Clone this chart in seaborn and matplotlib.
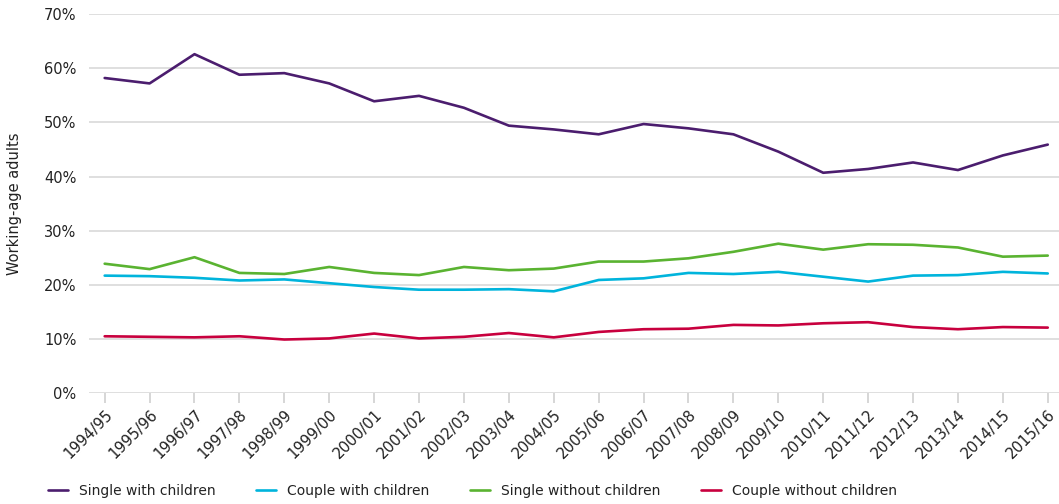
import numpy as np
import pandas as pd
import matplotlib
matplotlib.use("Agg")
import matplotlib.pyplot as plt
import seaborn as sns
from matplotlib.ticker import PercentFormatter

years = ["1994/95", "1995/96", "1996/97", "1997/98", "1998/99", "1999/00", "2000/01",
         "2001/02", "2002/03", "2003/04", "2004/05", "2005/06", "2006/07", "2007/08",
         "2008/09", "2009/10", "2010/11", "2011/12", "2012/13", "2013/14", "2014/15", "2015/16"]

single_with_children = [58.2, 57.2, 62.6, 58.8, 59.1, 57.2, 53.9, 54.9, 52.7, 49.4, 48.7,
                        47.8, 49.7, 48.9, 47.8, 44.6, 40.7, 41.4, 42.6, 41.2, 43.9, 45.9]
couple_with_children = [21.7, 21.6, 21.3, 20.8, 21.0, 20.3, 19.6, 19.1, 19.1, 19.2, 18.8,
                        20.9, 21.2, 22.2, 22.0, 22.4, 21.5, 20.6, 21.7, 21.8, 22.4, 22.1]
single_without_children = [23.9, 22.9, 25.1, 22.2, 22.0, 23.3, 22.2, 21.8, 23.3, 22.7, 23.0,
                           24.3, 24.3, 24.9, 26.1, 27.6, 26.5, 27.5, 27.4, 26.9, 25.2, 25.4]
couple_without_children = [10.5, 10.4, 10.3, 10.5, 9.9, 10.1, 11.0, 10.1, 10.4, 11.1, 10.3,
                           11.3, 11.8, 11.9, 12.6, 12.5, 12.9, 13.1, 12.2, 11.8, 12.2, 12.1]

series_names = ["Single with children", "Couple with children",
                "Single without children", "Couple without children"]
colors = ["#4B1D6E", "#00B4DC", "#5AB331", "#C8003E"]

rows = []
for name, vals in zip(series_names, [single_with_children, couple_with_children,
                                     single_without_children, couple_without_children]):
    for i, (y, v) in enumerate(zip(years, vals)):
        rows.append({"idx": i, "year": y, "value": v, "series": name})
df = pd.DataFrame(rows)

sns.set_theme(style="white")
plt.rcParams['font.family'] = ['DejaVu Sans']

fig = plt.figure(figsize=(10.59, 5.04), dpi=100)
ax = fig.add_axes([0.084, 0.220, 0.916, 0.752])

sns.lineplot(data=df, x="idx", y="value", hue="series", palette=colors,
             hue_order=series_names, linewidth=1.9, ax=ax, legend=True)

ax.set_ylim(0, 70)
ax.set_xlim(-0.35, 21.25)
ax.set_yticks(range(0, 71, 10))
ax.yaxis.set_major_formatter(PercentFormatter(decimals=0))
ax.grid(axis="y", color="#d9d9d9", linewidth=1.2)
ax.set_axisbelow(True)
for s in ax.spines.values():
    s.set_visible(False)

ax.set_xticks(range(len(years)))
ax.set_xticklabels(years, rotation=45, ha="right", rotation_mode="anchor",
                   fontsize=10.8, color="#222222")
ax.tick_params(axis="x", bottom=True, length=7, color="#d0d0d0", width=1.2, pad=3)
ax.tick_params(axis="y", left=False, length=0, labelsize=10.5, labelcolor="#222222", pad=9)
ax.set_xlabel("")
ax.set_ylabel("Working-age adults", fontsize=10.5, color="#222222")
ax.yaxis.set_label_coords(-0.069, 0.5)

handles, labels = ax.get_legend_handles_labels()
leg = ax.legend(handles, labels, loc="lower left", ncol=4, frameon=False, fontsize=10,
                handlelength=1.45, columnspacing=2.9, handletextpad=0.8,
                borderpad=0, borderaxespad=0,
                bbox_to_anchor=(0.0453, 0.012), bbox_transform=fig.transFigure)
for t in leg.get_texts():
    t.set_color("#222222")

fig.savefig("out.png", dpi=100)
